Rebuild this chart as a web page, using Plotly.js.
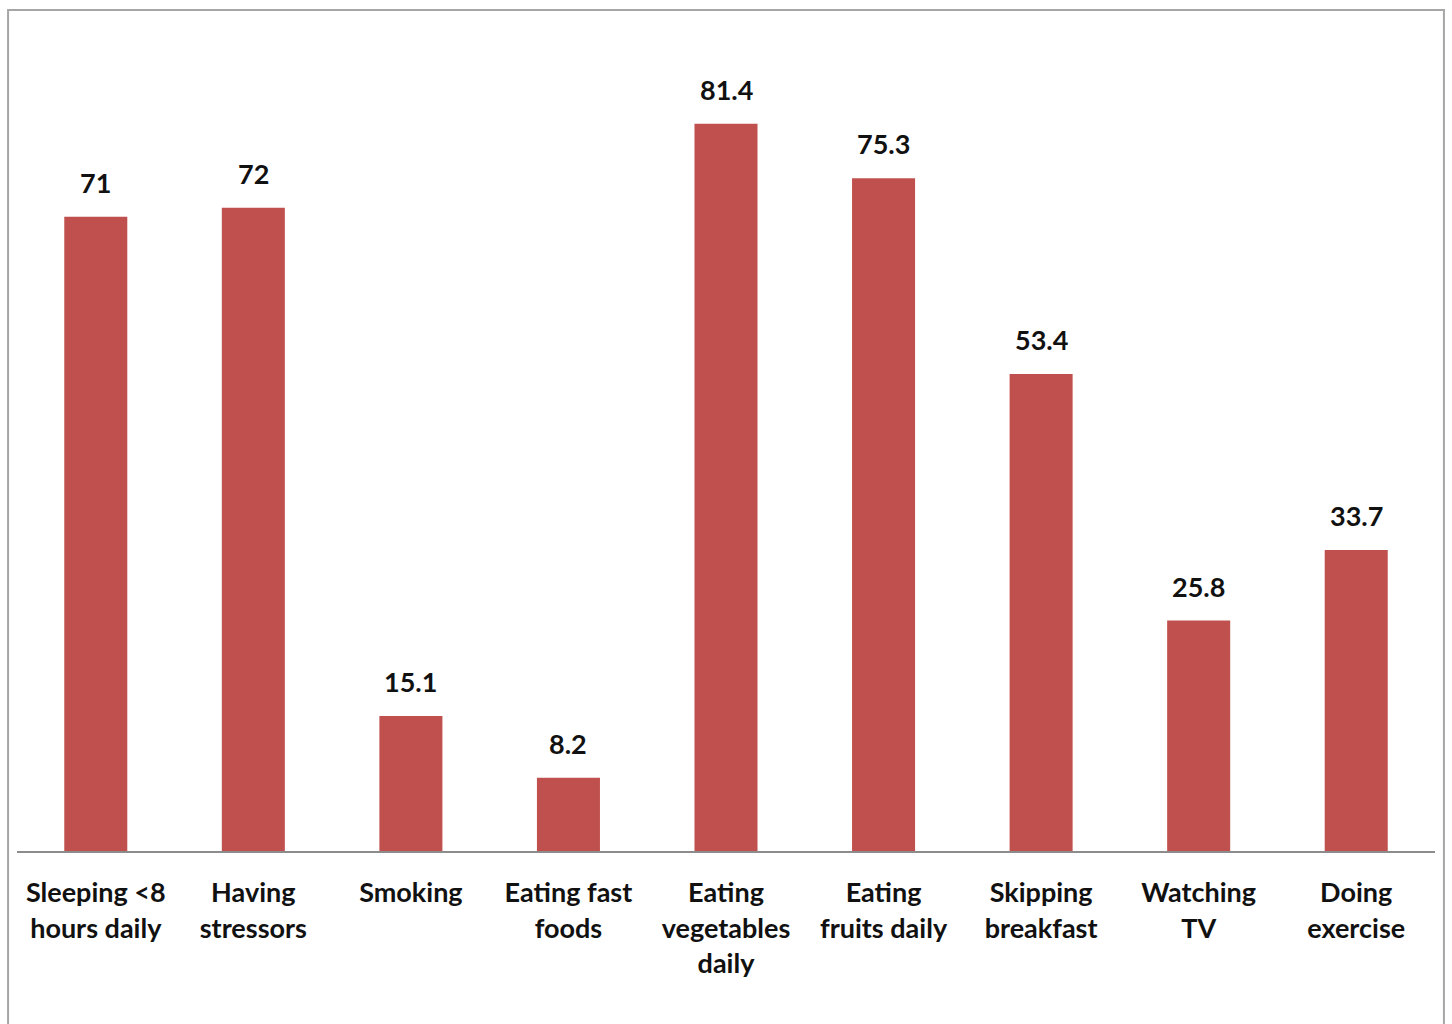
<!DOCTYPE html>
<html>
<head>
<meta charset="utf-8">
<script src="https://cdn.plot.ly/plotly-3.0.1.min.js"></script>
<style>html,body{margin:0;padding:0;background:#fff;}#chart{width:1452px;height:1024px;}</style>
</head>
<body>
<div id="chart"></div>
<script>
var categories = [
  "Sleeping <8<br>hours daily",
  "Having<br>stressors",
  "Smoking",
  "Eating fast<br>foods",
  "Eating<br>vegetables<br>daily",
  "Eating<br>fruits daily",
  "Skipping<br>breakfast",
  "Watching<br>TV",
  "Doing<br>exercise"
];
var values = [71, 72, 15.1, 8.2, 81.4, 75.3, 53.4, 25.8, 33.7];
var valueLabels = ["71", "72", "15.1", "8.2", "81.4", "75.3", "53.4", "25.8", "33.7"];

var font = "Lato, 'Open Sans', sans-serif";

var trace = {
  type: "bar",
  x: categories,
  y: values,
  marker: {color: "#c0504d"},
  hoverinfo: "none"
};

var annotations = categories.map(function (c, i) {
  return {
    x: c, y: values[i], xref: "x", yref: "y",
    text: valueLabels[i],
    showarrow: false,
    yanchor: "bottom",
    yshift: 16,
    font: {family: font, size: 27, color: "#111", weight: "bold"}
  };
});

var layout = {
  width: 1452,
  height: 1024,
  margin: {l: 17, r: 17, t: 47, b: 173},
  paper_bgcolor: "#ffffff",
  plot_bgcolor: "#ffffff",
  bargap: 0.6,
  showlegend: false,
  font: {family: font, size: 27, color: "#111"},
  xaxis: {
    showline: true,
    linecolor: "#8c8c8c",
    linewidth: 2,
    showgrid: false,
    zeroline: false,
    ticks: "outside",
    ticklen: 17,
    tickcolor: "rgba(0,0,0,0)",
    tickfont: {family: font, size: 27, color: "#111", weight: "bold"},
    tickangle: 0,
    fixedrange: true
  },
  yaxis: {
    range: [0, 90],
    visible: false,
    showgrid: false,
    zeroline: false,
    fixedrange: true
  },
  annotations: annotations,
  shapes: [{
    type: "rect",
    xref: "paper", yref: "paper",
    x0: -0.0063, x1: 1.0063,
    y0: -0.23, y1: 1.046,
    line: {color: "#a6a6a6", width: 2},
    fillcolor: "rgba(0,0,0,0)",
    layer: "below"
  }]
};

Plotly.newPlot("chart", [trace], layout, {displayModeBar: false, staticPlot: true});
</script>
</body>
</html>
